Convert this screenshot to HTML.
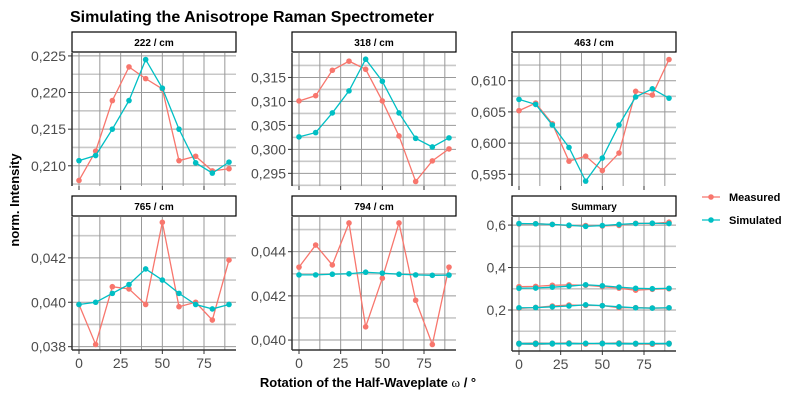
<!DOCTYPE html>
<html><head><meta charset="utf-8"><style>
body{margin:0;background:#fff;}
svg{display:block;font-family:"Liberation Sans",sans-serif;}
</style></head><body>
<svg id="chart" width="800" height="400" viewBox="0 0 800 400">
<text x="70" y="22" font-size="16" font-weight="bold" fill="#000">Simulating the Anisotrope Raman Spectrometer</text>
<text transform="translate(19,200) rotate(-90)" text-anchor="middle" font-size="13" font-weight="bold">norm. Intensity</text>
<text x="368" y="387" text-anchor="middle" font-size="13" font-weight="bold">Rotation of the Half-Waveplate <tspan font-family="Liberation Serif,serif" font-weight="normal">ω</tspan> / °</text>
<g>
<g><line x1="702" x2="720" y1="197" y2="197" stroke="#F8766D" stroke-width="1.3"/><circle cx="711" cy="197" r="2.8" fill="#F8766D"/><text x="729" y="201" font-size="11" font-weight="bold">Measured</text></g>
<g><line x1="702" x2="720" y1="220" y2="220" stroke="#00BFC4" stroke-width="1.3"/><circle cx="711" cy="220" r="2.8" fill="#00BFC4"/><text x="729" y="224" font-size="11" font-weight="bold">Simulated</text></g>
</g>
</svg>
<script>
const angles=[0,10,20,30,40,50,60,70,80,90];
const m222=[0.2080,0.2120,0.2189,0.2235,0.2219,0.2205,0.2107,0.2113,0.2093,0.2096];
const s222=[0.2107,0.2114,0.2150,0.2189,0.2245,0.2206,0.2150,0.2104,0.2090,0.2105];
const m318=[0.3101,0.3112,0.3165,0.3184,0.3167,0.3101,0.3028,0.2933,0.2976,0.3001];
const s318=[0.3026,0.3035,0.3076,0.3122,0.3188,0.3142,0.3076,0.3023,0.3005,0.3024];
const m463=[0.6052,0.6064,0.6031,0.5971,0.5979,0.5956,0.5984,0.6083,0.6077,0.6134];
const s463=[0.6070,0.6062,0.6029,0.5993,0.5939,0.5976,0.6029,0.6074,0.6087,0.6072];
const m765=[0.0399,0.0381,0.0407,0.0406,0.0399,0.0436,0.0398,0.0400,0.0392,0.0419];
const s765=[0.0399,0.0400,0.0404,0.0408,0.0415,0.0410,0.0404,0.0399,0.0397,0.0399];
const m794=[0.0433,0.0443,0.0434,0.0453,0.0406,0.0428,0.0453,0.0418,0.0398,0.0433];
const s794=[0.04295,0.04295,0.04298,0.04300,0.04307,0.04303,0.04298,0.04295,0.04293,0.04294];
const xTicks=[0,25,50,75];
const NS="http://www.w3.org/2000/svg";
const svg=document.getElementById('chart');
function el(tag,attrs,parent){const e=document.createElementNS(NS,tag);for(const k in attrs)e.setAttribute(k,attrs[k]);(parent||svg).appendChild(e);return e;}
const panels=[
 {name:'222',label:'222 / cm',x0:72,x1:236,y0:53,y1:186,lo:0.20724,hi:0.2254,maj:[0.210,0.215,0.220,0.225],step:0.005,dec:3,series:[[m222,s222]],bottom:false},
 {name:'318',label:'318 / cm',x0:292,x1:456,y0:53,y1:186,lo:0.29236,hi:0.3201,maj:[0.295,0.300,0.305,0.310,0.315],step:0.005,dec:3,series:[[m318,s318]],bottom:false},
 {name:'463',label:'463 / cm',x0:512,x1:676,y0:53,y1:186,lo:0.59312,hi:0.61444,maj:[0.595,0.600,0.605,0.610],step:0.005,dec:3,series:[[m463,s463]],bottom:false},
 {name:'765',label:'765 / cm',x0:72,x1:236,y0:217,y1:350,lo:0.03785,hi:0.04384,maj:[0.038,0.040,0.042],step:0.002,dec:3,series:[[m765,s765]],bottom:true},
 {name:'794',label:'794 / cm',x0:292,x1:456,y0:217,y1:350,lo:0.03955,hi:0.04557,maj:[0.040,0.042,0.044],step:0.002,dec:3,series:[[m794,s794]],bottom:true},
 {name:'summary',label:'Summary',x0:512,x1:676,y0:217,y1:351,lo:0.007,hi:0.638,maj:[0.2,0.4,0.6],step:0.2,dec:1,series:[[m222,s222],[m318,s318],[m463,s463],[m765,s765],[m794,s794]],bottom:true}
];
panels.forEach(p=>{
 const g=el('g',{});
 
 
 const dx0=p.x0+7,dx1=p.x1-7;
 const X=v=>dx0+(v-0)/(90-0)*(dx1-dx0);
 const Y=v=>p.y1-(v-p.lo)/(p.hi-p.lo)*(p.y1-p.y0);
 const st=el('rect',{x:p.x0,y:p.y0-21,width:p.x1-p.x0,height:20,fill:'#fff',stroke:'#000','stroke-width':1.2},g);
 
 
 const stt=el('text',{x:(p.x0+p.x1)/2,y:p.y0-7,'text-anchor':'middle','font-size':10,'font-weight':'bold'},g);
 stt.textContent=p.label;
 
 
 const first=p.maj[0]-p.step/2;
 for(let v=first;v<=p.hi+1e-9;v+=p.step){ if(v<p.lo)continue; el('line',{x1:p.x0,x2:p.x1,y1:Y(v),y2:Y(v),stroke:'#c8c8c8','stroke-width':1.6},g);}
 for(let v=first-p.step;v>=p.lo;v-=p.step){ el('line',{x1:p.x0,x2:p.x1,y1:Y(v),y2:Y(v),stroke:'#c8c8c8','stroke-width':1.6},g);}
 for(let v=0;v<=90;v+=12.5){ el('line',{x1:X(v),x2:X(v),y1:p.y0,y2:p.y1,stroke:'#999','stroke-width':1},g);}
 p.maj.forEach(v=>{
  el('line',{x1:p.x0,x2:p.x1,y1:Y(v),y2:Y(v),stroke:'#999','stroke-width':1},g);
  el('line',{x1:p.x0-4,x2:p.x0,y1:Y(v),y2:Y(v),stroke:'#333','stroke-width':1},g);
  const t=el('text',{x:p.x0-6,y:Y(v)+5,'text-anchor':'end','font-size':14,fill:'#4d4d4d'},g);
  t.textContent=v.toFixed(p.dec).replace('.',',');
  
  
 });
 el('line',{x1:p.x0,x2:p.x0,y1:p.y0,y2:p.y1,stroke:'#333','stroke-width':1.5},g);
 xTicks.forEach(v=>{
  el('line',{x1:X(v),x2:X(v),y1:p.y1,y2:p.y1+4,stroke:'#333','stroke-width':1},g);
  if(p.bottom){const t=el('text',{x:X(v),y:p.y1+18,'text-anchor':'middle','font-size':14,fill:'#4d4d4d'},g);t.textContent=v;
   
   }
 });
 if(p.bottom) el('line',{x1:p.x0,x2:p.x1,y1:p.y1,y2:p.y1,stroke:'#333','stroke-width':1.5},g);
 p.series.forEach(pair=>{
  [[pair[0],'#F8766D','measured'],[pair[1],'#00BFC4','simulated']].forEach(([d,c,n])=>{
   const pl=el('polyline',{points:d.map((v,i)=>X(angles[i])+','+Y(v)).join(' '),fill:'none',stroke:c,'stroke-width':1.3},g);
   
   
   d.forEach((v,i)=>{const pt=el('circle',{cx:X(angles[i]),cy:Y(v),r:2.8,fill:c},g);
    
    });
  });
 });
});
</script>
</body></html>
